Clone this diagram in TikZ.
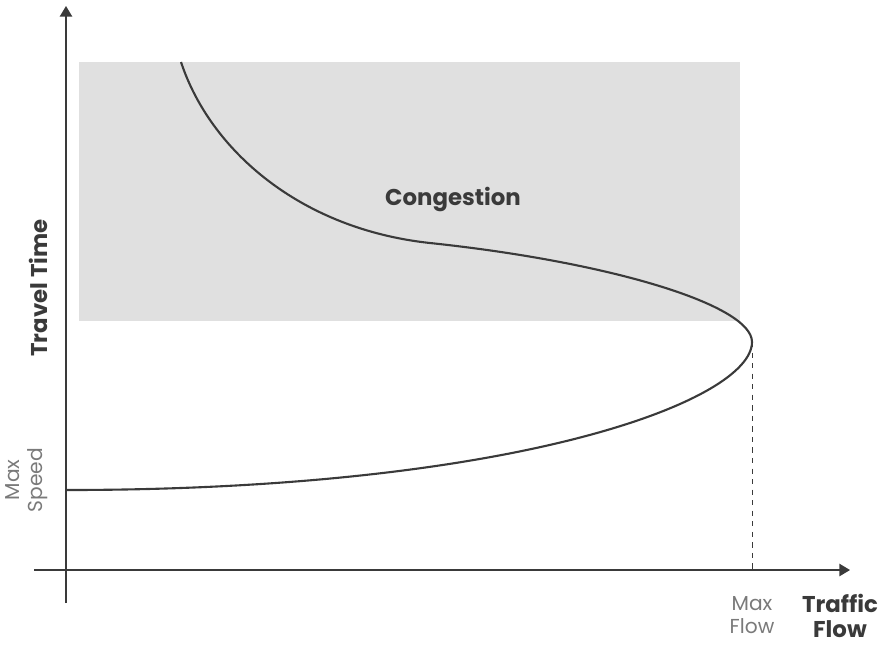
\documentclass[tikz,border=0pt]{standalone}
\usepackage{fontspec}
\setmainfont{Poppins}
\usetikzlibrary{arrows.meta}
\usetikzlibrary{positioning}

\definecolor{zonegray}{HTML}{E0E0E0}
\definecolor{axisgray}{HTML}{3A3A3A}
\definecolor{labelgray}{HTML}{7A7A7A}

\tikzset{
  axislabel/.style={font=\bfseries\fontsize{13}{14.5}\selectfont, text=axisgray, align=center},
  ticklabel/.style={font=\fontsize{11.5}{13}\selectfont, text=labelgray, align=center},
}

\begin{document}
\begin{tikzpicture}[x=0.02cm,y=-0.02cm,thick,>={Triangle[length=6pt,width=7pt]}]
  \useasboundingbox (0,0) rectangle (885,647);

  % congestion zone
  \fill[zonegray] (79,62) rectangle (740,321);

  \coordinate (yaxis-bot) at (66,603);
  \coordinate (yaxis-top) at (66,6);
  \coordinate (xaxis-left) at (34,570);
  \coordinate (xaxis-right) at (850,570);
  \coordinate (curve-top) at (181,62);
  \coordinate (curve-mid) at (430,243);
  \coordinate (curve-turn) at (752,342);
  \coordinate (curve-end) at (66,490);
  \coordinate (flow-foot) at (752,570);

  \draw[->, axisgray] (yaxis-bot) -- (yaxis-top);
  \draw[->, axisgray] (xaxis-left) -- (xaxis-right);

  \draw[axisgray, line width=1.2pt] (curve-top) .. controls (210,150) and (300,229) .. (curve-mid)
    .. controls (610,262) and (752,305) .. (curve-turn)
    .. controls (752,400) and (520,490) .. (curve-end);
  \draw[dashed, axisgray, thin] (curve-turn) -- (flow-foot);

  \node[axislabel] (congestion) at (453,199) {Congestion};
  \node[axislabel, rotate=90] (travel) at (38,288) {Travel Time};
  \node[ticklabel, rotate=90] (maxspeed) at (27,480) {Max\\Speed};
  \node[ticklabel] (maxflow) at (752,615) {Max\\Flow};
  \node[axislabel] (traffic) at (840,616) {Traffic\\Flow};
\end{tikzpicture}
\end{document}
